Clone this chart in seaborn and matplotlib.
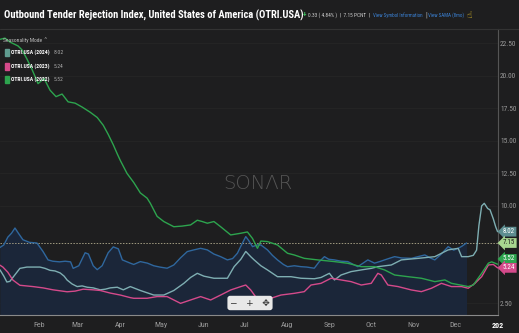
import matplotlib
matplotlib.use("Agg")
import matplotlib.pyplot as plt
from matplotlib import font_manager as fm
import seaborn as sns
import numpy as np
import pandas as pd

# ---------------- data ----------------
month_ticks = [31, 59, 90, 120, 151, 181, 212, 243, 273, 304, 334, 365]
month_labels = ["Feb", "Mar", "Apr", "May", "Jun", "Jul", "Aug", "Sep", "Oct", "Nov", "Dec", "202"]
y_ticks = [2.5, 10.0, 12.5, 15.0, 17.5, 20.0, 22.5]

days_main = [2.5, 5.4, 8.3, 11, 13.5, 16, 19.3, 24, 29.5, 33.9, 37.6, 41, 46, 50, 54, 55.9, 60, 64.6, 67,
             70.5, 73.4, 77, 81.4, 85.1, 88.8, 91.7, 97.5, 100, 104.8, 110, 114.6, 119, 124.3, 129.2, 134,
             139, 143, 148.7, 153.6, 158.4, 163.3, 168.2, 172, 175.5, 178, 181.6, 184, 186.5, 190, 192.6,
             197.4, 201, 204.7, 209, 212, 217, 221.8, 226, 231.5, 235, 238.9, 242, 246.2, 251, 255.9, 260,
             263.2, 267, 270.5, 275.4, 280, 282.7, 287, 290, 295, 302.2, 307, 312, 316, 319.3, 324, 329,
             333, 336.3, 339, 342.4]
vals_main = [6.8, 7.0, 7.6, 7.9, 8.3, 7.9, 7.4, 7.2, 7.15, 6.5, 5.85, 5.75, 5.7, 5.75, 5.7, 5.2, 5.4, 6.4, 6.3,
             5.4, 5.1, 5.4, 6.4, 6.85, 6.7, 5.85, 5.6, 5.5, 5.72, 5.6, 5.4, 5.3, 5.21, 5.46, 6.0,
             6.49, 6.6, 6.74, 6.62, 6.3, 6.1, 5.85, 5.95, 6.36, 6.9, 7.64, 7.3, 6.87, 7.0, 7.0,
             6.62, 6.2, 5.85, 5.5, 5.33, 5.4, 5.33, 5.3, 5.21, 5.7, 6.1, 5.9, 5.85, 5.75, 5.72, 5.5,
             5.33, 5.6, 5.85, 5.6, 5.75, 5.85, 6.0, 6.1, 6.0, 5.97, 6.1, 6.23, 6.0, 5.85, 6.3, 6.87,
             6.6, 6.74, 6.9, 7.15]

days_2024 = [2.5, 5.4, 7.6, 9.8, 12.7, 14.9, 17.1, 22.2, 28.1, 31.7, 35.4, 39, 42.7, 46.4, 49.3, 51.5, 55.1,
             58.8, 62.4, 66.1, 70.5, 75.6, 79.3, 82.9, 88, 92.4, 97.5, 104.8, 114.6, 121.9, 129.2, 136.5,
             141.4, 146.3, 151.1, 158.4, 168.2, 173.1, 178, 181.6, 185.2, 187.7, 192.6, 197.4, 204.7,
             214.5, 221.8, 231.5, 236.4, 242.5, 246.2, 251, 258.3, 265.7, 273, 277.8, 287.6, 294.9,
             307.1, 319.3, 329, 336.3, 338.8, 343.6, 347.3, 349.7, 351.4, 353.4, 355.3, 357.8, 359.5,
             361.9, 363.6, 365]
vals_2024 = [5.1, 4.6, 4.15, 4.2, 4.6, 4.9, 5.2, 5.3, 5.3, 5.3, 5.2, 5.05, 5.0, 4.85, 4.6, 4.3, 4.0,
             3.8, 3.85, 3.75, 3.7, 3.55, 3.6, 3.7, 3.75, 3.55, 3.8, 3.5, 3.15, 3.15, 3.5, 4.05,
             4.5, 4.82, 4.6, 4.44, 4.44, 5.33, 5.9, 6.5, 6.1, 5.85, 5.4, 5.08, 4.56,
             4.56, 4.44, 4.4, 4.5, 4.82, 4.31, 4.69, 4.95, 5.08, 5.2, 5.33, 5.46, 5.85,
             5.97, 6.10, 6.62, 6.74, 6.1, 6.1, 6.2, 6.6, 8.5, 10.0, 10.2, 9.8, 9.7,
             9.0, 8.4, 8.02]

days_2023 = [2.5, 4.7, 8.3, 12, 17.1, 26.6, 33.9, 41.2, 51.5, 57.3, 63.2, 70.5, 75.6, 82.9, 90.2, 97.5,
             100, 109.7, 117, 124.3, 129.2, 134.1, 141.4, 148.7, 156, 163.3, 170.6, 178, 181.6, 185.2,
             188.9, 192.6, 199.9, 207.2, 216.9, 224.2, 229.1, 236.4, 243.7, 251, 258.3, 265.7, 273,
             277.8, 280.3, 285.1, 292.5, 302.2, 309.5, 316.8, 324.1, 331.4, 338.8, 343.6, 348.5, 353.4,
             358.3, 361.9, 365]
vals_2023 = [5.45, 5.3, 4.9, 4.3, 3.9, 3.8, 3.7, 3.55, 3.4, 3.45, 3.6, 3.55, 3.5, 3.3, 3.15, 2.95,
             2.9, 2.9, 3.03, 3.03, 2.77, 2.51, 2.77, 3.03, 2.77, 3.15, 3.54, 3.8, 3.92, 3.54,
             3.0, 2.77, 2.9, 3.15, 3.28, 3.41, 3.92, 4.05, 4.44, 4.31, 4.18, 3.92, 4.05,
             4.82, 4.69, 3.92, 3.8, 3.54, 3.41, 3.67, 4.05, 3.8, 3.8, 3.67, 4.05, 4.56,
             5.46, 5.5, 5.24]

days_2022 = [2.5, 6.2, 9.8, 15.7, 18.6, 22.2, 25.9, 30.3, 34.7, 39, 43.4, 47.8, 52.2, 57.3, 62.4, 68.3,
             73.4, 77.8, 81.4, 85.1, 88, 90.2, 95.1, 100, 104.8, 109.7, 112.1, 117, 121.9, 129.2, 135.3,
             141.4, 146.3, 149.9, 153.6, 158.4, 163.3, 170.6, 178, 182.8, 186.5, 190.1, 192.6, 197.4,
             204.7, 212, 216.9, 224.2, 234, 246.2, 255.9, 265.7, 275.4, 282.7, 290, 299.8, 309.5, 319.3,
             326.6, 331.4, 338.8, 343.6, 347.3, 353.4, 358.3, 360.7, 365]
vals_2022 = [22.8, 22.9, 22.6, 22.3, 22.0, 21.3, 20.5, 19.4, 19.8, 18.9, 18.4, 18.6, 18.0, 17.9, 17.6, 17.2,
             16.8, 16.2, 15.5, 14.7, 14.0, 13.5, 12.5, 11.8, 11.0, 10.6, 10.2, 9.2, 8.8, 8.4, 8.45,
             8.54, 8.9, 8.8, 8.67, 8.8, 8.4, 7.77, 7.9, 8.0, 7.5, 6.74, 7.3, 7.26,
             7.0, 6.36, 6.23, 5.97, 5.85, 5.72, 5.59, 5.33, 5.33, 5.08, 4.69, 4.56, 4.44, 4.18,
             4.31, 4.05, 3.9, 3.8, 3.92, 4.82, 5.6, 5.7, 5.52]

current_value = 7.15
legend_names = ["OTRI.USA (2024)", "OTRI.USA (2023)", "OTRI.USA (2022)"]
legend_values = ["8.02", "5.24", "5.52"]

# ---------------- style ----------------
BG = "#1e1e1f"
FILL = "#1b2639"
C_MAIN = "#2f679e"
C_2024 = "#7eaeb2"
C_2023 = "#d54a8b"
C_2022 = "#2da44e"
GREY = "#9a9a9a"
W, H = 519, 333

# pick the narrowest installed sans family
FONT = "Roboto"
for cand in ["Roboto Condensed", "Open Sans Condensed", "Liberation Sans Narrow", "Noto Sans Condensed"]:
    try:
        fm.findfont(fm.FontProperties(family=cand), fallback_to_default=False)
        FONT = cand
        break
    except Exception:
        pass

sns.set_theme(style="dark")
plt.rcParams["font.family"] = [FONT, "DejaVu Sans"]

fig = plt.figure(figsize=(5.19, 3.33), dpi=100, facecolor=BG)
ax = fig.add_axes([0, 18 / H, 498 / W, (315 - 29) / H])
ax.set_facecolor(BG)
renderer = fig.canvas.get_renderer()


def fit(t, width_px):
    """scale a text's font size so it spans width_px pixels"""
    bb = t.get_window_extent(renderer=renderer)
    t.set_fontsize(t.get_fontsize() * width_px / bb.width)
    return t


ylo, yhi = 1.615, 23.6
ax.set_xlim(2.6, 365.3)
ax.set_ylim(ylo, yhi)

for yt in y_ticks:
    ax.axhline(yt, color="#262626", lw=0.6, zorder=0)

ax.fill_between(days_main, vals_main, ylo, color=FILL, lw=0, zorder=1)

df = pd.concat([
    pd.DataFrame({"day": days_main, "val": vals_main, "s": "main"}),
    pd.DataFrame({"day": days_2024, "val": vals_2024, "s": "2024"}),
    pd.DataFrame({"day": days_2023, "val": vals_2023, "s": "2023"}),
    pd.DataFrame({"day": days_2022, "val": vals_2022, "s": "2022"}),
])
palette = {"main": C_MAIN, "2024": C_2024, "2023": C_2023, "2022": C_2022}
sns.lineplot(data=df, x="day", y="val", hue="s", palette=palette, lw=1.0, legend=False,
             ax=ax, zorder=3, sort=False)

ax.axhline(current_value, color="#a09a80", lw=0.7, ls=(0, (1.5, 1.5)), zorder=2)

# axes styling
for sp in ["top", "left"]:
    ax.spines[sp].set_visible(False)
ax.spines["bottom"].set_color("#8a8a8a")
ax.spines["bottom"].set_linewidth(0.8)
ax.spines["right"].set_color("#555555")
ax.spines["right"].set_linewidth(0.8)
ax.grid(False)
ax.yaxis.tick_right()
ax.set_yticks(y_ticks)
ax.set_yticklabels([f"{v:.2f}" for v in y_ticks], fontsize=5.3, color=GREY)
ax.set_xticks(month_ticks)
ax.set_xticklabels(month_labels, fontsize=5.8, color=GREY)
ax.get_xticklabels()[-1].set_color("white")
ax.get_xticklabels()[-1].set_fontweight("bold")
ax.tick_params(axis="x", length=2, color="#8a8a8a", pad=3)
ax.tick_params(axis="y", length=0, pad=1.5)
ax.set_xlabel("")
ax.set_ylabel("")


# badges on right
def badge(v, text, fc, tc):
    ax.annotate(text, xy=(1.0, v), xycoords=("axes fraction", "data"), xytext=(3.5, 0),
                textcoords="offset points", fontsize=5, color=tc, va="center", ha="left",
                bbox=dict(boxstyle="larrow,pad=0.2", fc=fc, ec="none"), annotation_clip=False, zorder=6)


badge(5.92, "5.52", C_2022, "white")
badge(5.24, "5.24", C_2023, "white")
badge(8.02, "8.02", "#5d8d90", "white")
badge(7.15, "7.15", "#a8d690", "#1e1e1e")

# title bar
ty = 1 - 15 / H
title = fig.text(4 / W, ty, "Outbound Tender Rejection Index, United States of America (OTRI.USA)",
                 fontsize=10, fontweight="bold", color="white", va="center", ha="left")
fit(title, 300)
fig.text(303 / W, ty, "+", fontsize=5, color="#3fbf5f", va="center", fontweight="bold")
fit(fig.text(308 / W, ty, "0.33 ( 4.84% )  |  7.15 PCNT  |", fontsize=4.5, color="#cfcfcf",
             va="center"), 62)
fit(fig.text(373 / W, ty, "View Symbol Information", fontsize=4.5, color="#3a7fd0", va="center"), 50)
fig.text(425 / W, ty, "|", fontsize=5, color="#cfcfcf", va="center")
fit(fig.text(428 / W, ty, "View SAMA (8mo)", fontsize=4.5, color="#3a7fd0", va="center"), 36)
fig.text(466 / W, ty, "☝", fontsize=6.5, color="#e6c229", va="center", family=["DejaVu Sans"])
fig.add_artist(plt.Line2D([0, 1], [1 - 29 / H, 1 - 29 / H], color="#333333", lw=0.8))

# legend
fit(fig.text(3 / W, 1 - 40 / H, "Seasonality Mode ⌃", fontsize=5.5, color="#bbbbbb", va="center",
             family=[FONT, "DejaVu Sans"]), 45)
leg_colors = ["#5f9b8f", C_2023, C_2022]
for i, (nm, vv, cc) in enumerate(zip(legend_names, legend_values, leg_colors)):
    yy = 1 - (52.5 + i * 13.5) / H
    fig.patches.append(plt.Rectangle((5 / W, yy - 3.5 / H), 4 / W, 7 / H, color=cc,
                                     transform=fig.transFigure, figure=fig))
    fit(fig.text(11 / W, yy, nm, fontsize=5, color="white", fontweight="bold", va="center"), 39)
    fit(fig.text(54 / W, yy, vv, fontsize=5, color="#aaaaaa", va="center"), 10)

# watermark
ax.text(0.518, 0.46, "SONΛR", transform=ax.transAxes, fontsize=14, color="#555555",
        ha="center", va="center", family=["DejaVu Sans"], fontweight="light", zorder=0)

# zoom control
fig.text(250 / W, 1 - 303 / H, "−   +   ✥", fontsize=6.5, color="#333333", ha="center", va="center",
         family=["DejaVu Sans"],
         bbox=dict(boxstyle="round,pad=0.3", fc="#e8e8e8", ec="none"), zorder=10)

fig.savefig("out.png", dpi=100, facecolor=BG)
